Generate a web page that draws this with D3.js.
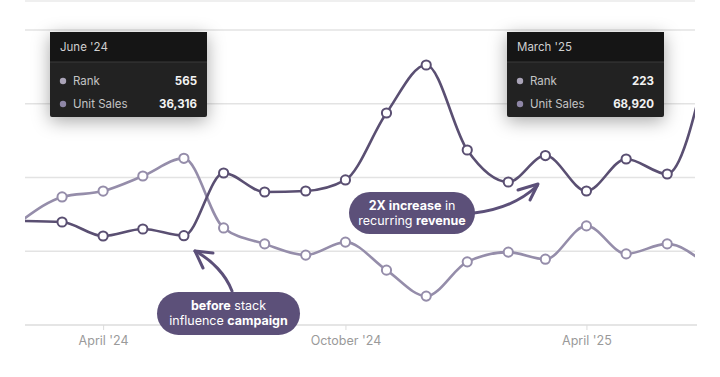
<!DOCTYPE html>
<html>
<head>
<meta charset="utf-8">
<script src="https://cdn.jsdelivr.net/npm/d3@7"></script>
<style>
  body { margin: 0; background: #fff; }
  svg { display: block; font-family: Inter, "Open Sans", sans-serif; }
</style>
</head>
<body>
<script>
var width = 720;
var height = 377;
var plotLeft = 25, plotRight = 695, plotTop = 30, plotBottom = 325;

// monthly points, Feb '24 .. Jul '25
var months = ["2024-02-01","2024-03-01","2024-04-01","2024-05-01","2024-06-01","2024-07-01",
  "2024-08-01","2024-09-01","2024-10-01","2024-11-01","2024-12-01","2025-01-01",
  "2025-02-01","2025-03-01","2025-04-01","2025-05-01","2025-06-01","2025-07-01"];
var unitSales = [42300, 41900, 36200, 39050, 36316, 61830, 54100, 54500, 59000,
  86240, 105760, 71190, 58170, 68920, 54500, 67530, 61420, 106000];
var rank = [359, 434, 454, 505, 565, 329, 275, 237, 281, 186, 98, 214, 247, 223, 336, 241, 275, 203];

var gridValues = [30000, 60000, 90000, 120000];
var tickDates = ["2024-04-01", "2024-10-01", "2025-04-01"];
var tickLabels = ["April '24", "October '24", "April '25"];

var tooltips = [
  { title: "June '24", rank: "565", sales: "36,316", x: 50 },
  { title: "March '25", rank: "223", sales: "68,920", x: 507 }
];

var parse = d3.timeParse("%Y-%m-%d");
var data = months.map(function(m, i) {
  return { date: parse(m), sales: unitSales[i], rank: rank[i] };
});

var svg = d3.select("body").append("svg")
  .attr("width", width)
  .attr("height", height);

var defs = svg.append("defs");
defs.append("clipPath").attr("id", "plot")
  .append("rect").attr("x", plotLeft).attr("y", 0)
  .attr("width", plotRight - plotLeft).attr("height", height);
var shadow = defs.append("filter").attr("id", "shadow")
  .attr("x", "-30%").attr("y", "-40%").attr("width", "160%").attr("height", "180%");
shadow.append("feDropShadow").attr("dx", 0).attr("dy", 4)
  .attr("stdDeviation", 9).attr("flood-color", "#000").attr("flood-opacity", 0.35);

var xScale = d3.scaleTime()
  .domain([parse("2024-02-02"), parse("2025-06-22")])
  .range([plotLeft, plotRight]);

var ySales = d3.scaleLinear().domain([0, 120000]).range([plotBottom, plotTop]);
var yRank = d3.scaleLinear().domain([0, 1000]).range([plotBottom, plotTop]);

// faint top border
svg.append("line")
  .attr("x1", plotLeft).attr("x2", plotRight).attr("y1", 1).attr("y2", 1)
  .attr("stroke", "#efefef").attr("stroke-width", 2);

// gridlines
svg.append("g").selectAll("line")
  .data(gridValues)
  .enter().append("line")
  .attr("x1", plotLeft).attr("x2", plotRight)
  .attr("y1", function(d) { return ySales(d); })
  .attr("y2", function(d) { return ySales(d); })
  .attr("stroke", "#e3e3e3")
  .attr("stroke-width", 1.5);

// x axis
var xAxis = svg.append("g")
  .attr("transform", "translate(0," + plotBottom + ")")
  .call(d3.axisBottom(xScale)
    .tickValues(tickDates.map(parse))
    .tickSize(5)
    .tickPadding(6)
    .tickFormat(function(d, i) { return tickLabels[i]; }));
xAxis.select(".domain").attr("stroke", "#dcdcdc").attr("stroke-width", 1.5)
  .attr("d", "M" + plotLeft + ",0H" + (plotRight + 2));
xAxis.selectAll(".tick line").attr("stroke", "#dcdcdc");
xAxis.selectAll(".tick text")
  .attr("fill", "#9a9a9a")
  .style("font-size", "12.5px")
  .style("font-family", "Inter, sans-serif");

var plot = svg.append("g").attr("clip-path", "url(#plot)");

var series = [
  { key: "rank", y: yRank, color: "#958daa" },
  { key: "sales", y: ySales, color: "#5a4f72" }
];

var inView = data.filter(function(d) {
  var x = xScale(d.date);
  return x >= plotLeft && x <= plotRight;
});

series.forEach(function(s) {
  var line = d3.line()
    .x(function(d) { return xScale(d.date); })
    .y(function(d) { return s.y(d[s.key]); })
    .curve(d3.curveMonotoneX);

  plot.append("path")
    .datum(data)
    .attr("fill", "none")
    .attr("stroke", s.color)
    .attr("stroke-width", 2.6)
    .attr("d", line);

  plot.append("g").selectAll("circle")
    .data(inView)
    .enter().append("circle")
    .attr("cx", function(d) { return xScale(d.date); })
    .attr("cy", function(d) { return s.y(d[s.key]); })
    .attr("r", 4.6)
    .attr("fill", "#fff")
    .attr("stroke", s.color)
    .attr("stroke-width", 2);
});

// tooltips
tooltips.forEach(function(t) {
  var g = svg.append("g").attr("transform", "translate(" + t.x + ",32)");
  var w = 157, h = 85;
  g.append("rect").attr("width", w).attr("height", h)
    .attr("rx", 2).attr("fill", "#222222").attr("filter", "url(#shadow)");
  g.append("rect").attr("width", w).attr("height", 30)
    .attr("fill", "#151515");
  g.append("line").attr("x1", 0).attr("x2", w).attr("y1", 30).attr("y2", 30)
    .attr("stroke", "#3a3a3a").attr("stroke-width", 1);
  g.append("text").attr("x", 10).attr("y", 19)
    .attr("fill", "#d0d0d0").style("font-size", "11.5px").text(t.title);

  var rows = [["Rank", t.rank, "#aaa4b8"], ["Unit Sales", t.sales, "#8e86a6"]];
  rows.forEach(function(r, i) {
    var cy = 49 + i * 23;
    g.append("circle").attr("cx", 13).attr("cy", cy).attr("r", 3.2).attr("fill", r[2]);
    g.append("text").attr("x", 23).attr("y", cy).attr("dy", "0.35em")
      .attr("fill", "#c4c4c4").style("font-size", "11.5px").text(r[0]);
    g.append("text").attr("x", w - 10).attr("y", cy).attr("dy", "0.35em")
      .attr("text-anchor", "end").attr("fill", "#f2f2f2")
      .style("font-size", "11.5px").style("font-weight", 700).text(r[1]);
  });
});

// annotations
var pillColor = "#5c5079";

function pill(cx, cy, w, h, lines) {
  var g = svg.append("g");
  g.append("rect")
    .attr("x", cx - w / 2).attr("y", cy - h / 2)
    .attr("width", w).attr("height", h)
    .attr("rx", h / 2).attr("fill", pillColor);
  lines.forEach(function(parts, i) {
    var txt = g.append("text")
      .attr("x", cx).attr("y", cy + (i === 0 ? -7.5 : 7.5))
      .attr("dy", "0.35em")
      .attr("text-anchor", "middle")
      .attr("fill", "#fff")
      .style("font-size", "12.5px");
    parts.forEach(function(p) {
      txt.append("tspan").style("font-weight", p[1] ? 700 : 400).text(p[0]);
    });
  });
}

function arrow(d, head) {
  svg.append("path").attr("d", d)
    .attr("fill", "none").attr("stroke", pillColor)
    .attr("stroke-width", 3).attr("stroke-linecap", "round");
  svg.append("path").attr("d", head)
    .attr("fill", "none").attr("stroke", pillColor)
    .attr("stroke-width", 3).attr("stroke-linecap", "round").attr("stroke-linejoin", "round");
}

arrow("M474,213 C500,210 522,200 537,186", "M518,190 L538,184 L530,200");
pill(412, 213, 126, 42, [[["2X increase", true], [" in", false]], [["recurring ", false], ["revenue", true]]]);

arrow("M232,291 C226,275 212,260 195,251", "M213,253 L195,251 L203,268");
pill(228.5, 313.5, 143, 43, [[["before", true], [" stack", false]], [["influence ", false], ["campaign", true]]]);
</script>
</body>
</html>
